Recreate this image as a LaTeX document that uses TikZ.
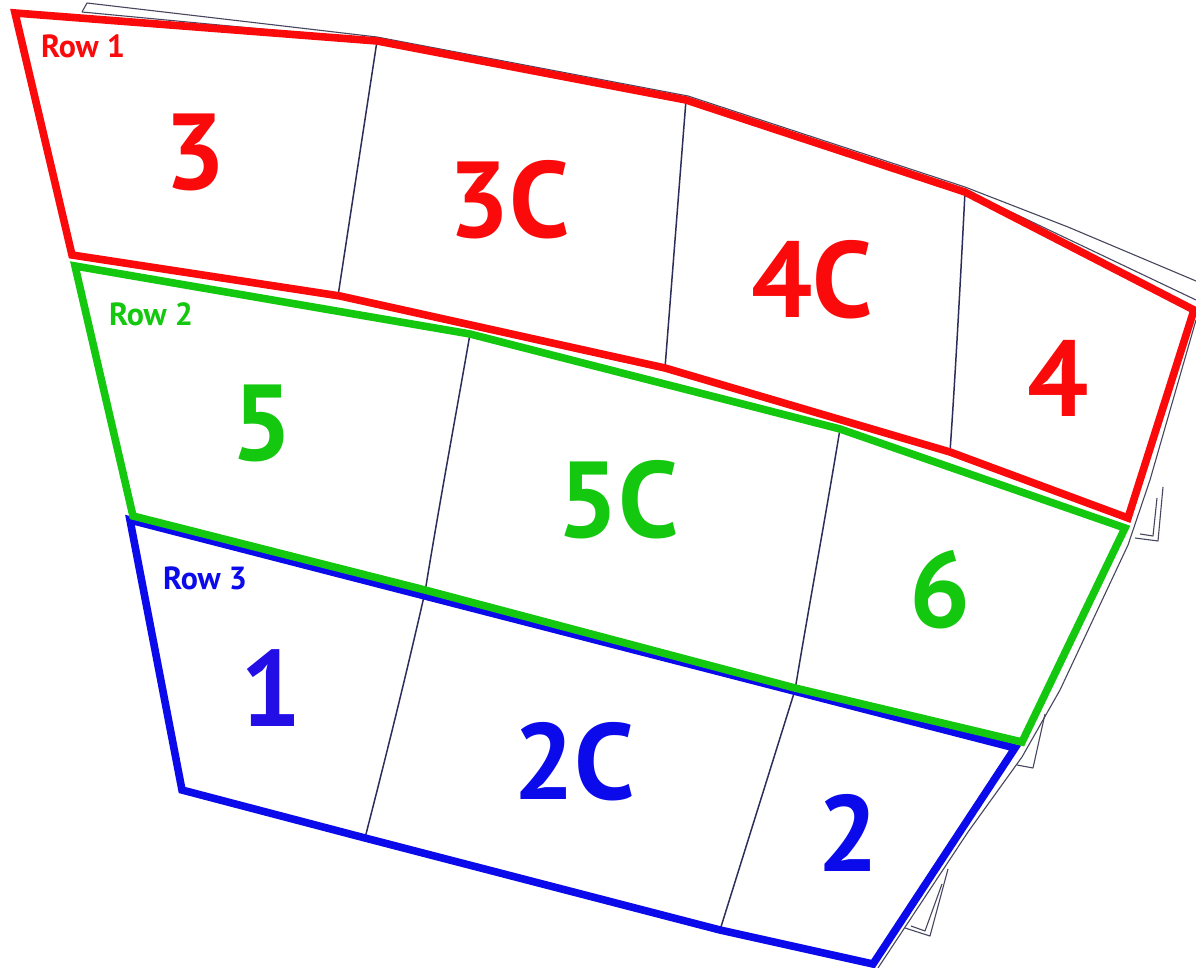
\documentclass[tikz,border=0pt]{standalone}
\usepackage{fontspec}
\setmainfont{PT Sans}
\definecolor{rowred}{RGB}{250,10,10}
\definecolor{rowgreen}{RGB}{20,200,15}
\definecolor{rowblue}{RGB}{10,10,235}
\definecolor{bluetext}{RGB}{35,15,230}
\definecolor{navy}{RGB}{45,45,90}
\definecolor{faint}{RGB}{70,70,95}
\begin{document}
\begin{tikzpicture}[x=0.5pt,y=-0.5pt,
  rowline/.style={line width=3.8pt,line join=miter},
  divider/.style={draw=navy,line width=0.75pt},
  outline/.style={draw=faint,line width=0.55pt,line join=round},
  big/.style={font=\bfseries\fontsize{54}{54}\selectfont,inner sep=0pt},
  rowlab/.style={font=\bfseries\fontsize{16}{16}\selectfont,inner sep=0pt}]
\useasboundingbox (0,0) rectangle (1196,968);
\fill[white] (0,0) rectangle (1196,968);

% faint outer outline
\draw[outline] (82,12) -- (87,3) -- (377,37) -- (688,96) -- (965,187) -- (1068,227) -- (1196,281);
\draw[outline] (82,12) -- (377,40);
\draw[outline] (965,190) -- (1196,300);
\draw[outline] (1196,320) -- (1150,480) -- (1128,545) -- (1060,690) -- (1022,757) -- (968,832) -- (878,968);
\draw[outline] (1163,487) -- (1158,541) -- (1135,538);
\draw[outline] (1157,498) -- (1153,536) -- (1140,534);
\draw[outline] (1045,714) -- (1033,768) -- (1017,765);
\draw[outline] (948,869) -- (930,936) -- (905,928);
\draw[outline] (942,884) -- (925,931) -- (911,926);

% dividers
\draw[divider] (377,41) -- (338,296);
\draw[divider] (686,100) -- (665,368);
\draw[divider] (965,192) .. controls (960,290) and (955,380) .. (950,452);
\draw[divider] (470,334) .. controls (455,420) and (440,500) .. (425,592) .. controls (405,680) and (385,760) .. (365,838);
\draw[divider] (840,429) .. controls (825,520) and (810,600) .. (795,690) .. controls (770,770) and (745,850) .. (720,930);

% rows
\draw[rowline,draw=rowblue] (130,520) -- (1015,748) -- (873,964) -- (720,930) -- (365,838) -- (182,790) -- cycle;
\draw[rowline,draw=rowgreen] (75,266) -- (470,334) -- (840,429) -- (1125,528) -- (1022,742) -- (795,688) -- (425,590) -- (133,516) -- cycle;
\draw[rowline,draw=rowred] (15,13) -- (377,41) -- (686,100) -- (965,192) -- (1194,310) -- (1128,518) -- (950,452) -- (665,368) -- (340,296) -- (72,255) -- cycle;

% labels
\node[rowlab,text=rowred] (r1) at (83,46) {Row 1};
\node[rowlab,text=rowgreen] (r2) at (151,314) {Row 2};
\node[rowlab,text=rowblue] (r3) at (205,578) {Row 3};

\node[big,text=rowred] (s3) at (195,152) {3};
\node[big,text=rowred] (s3c) at (509,200) {3C};
\node[big,text=rowred] (s4c) at (812,280) {4C};
\node[big,text=rowred] (s4) at (1058,378) {4};
\node[big,text=rowgreen] (s5) at (262,423) {5};
\node[big,text=rowgreen] (s5c) at (618,500) {5C};
\node[big,text=rowgreen] (s6) at (940,590) {6};
\node[big,text=bluetext] (s1) at (271,688) {1};
\node[big,text=rowblue] (s2c) at (574,762) {2C};
\node[big,text=rowblue] (s2) at (848,833) {2};
\end{tikzpicture}
\end{document}
